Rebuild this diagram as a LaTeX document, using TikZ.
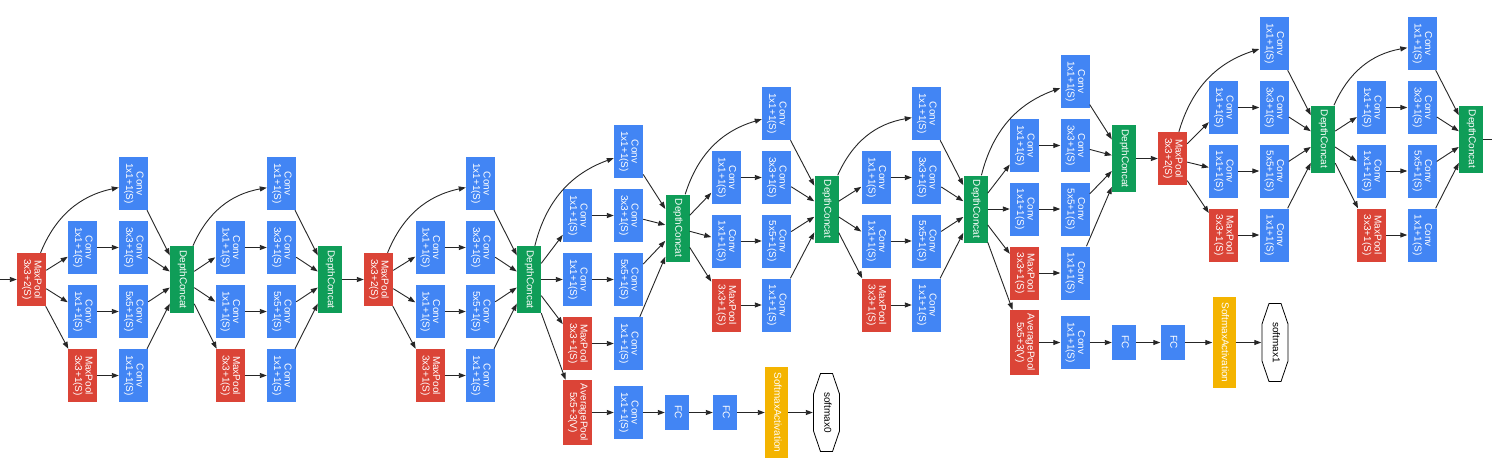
\documentclass[tikz,border=0pt]{standalone}
\usepackage{fontspec}
\setmainfont{Liberation Sans}
\usepackage{graphicx}
\usetikzlibrary{arrows.meta, positioning}

\definecolor{convblue}{HTML}{4285F4}
\definecolor{poolred}{HTML}{DB4437}
\definecolor{catgreen}{HTML}{0F9D58}
\definecolor{actyellow}{HTML}{F4B400}

\newcommand{\vlbl}[1]{\rotatebox{-90}{\begin{tabular}{@{}c@{}}#1\end{tabular}}}

\begin{document}
\begin{tikzpicture}[x=1pt, y=-1pt, on grid,
    >={Triangle[length=7pt,width=5pt]},
    font=\fontsize{10}{10.7}\selectfont,
    every edge/.style={draw, line width=0.9pt, black!85},
    blk/.style={rectangle, inner sep=0pt, text=white},
    conv/.style={blk, fill=convblue, minimum width=29pt, minimum height=53pt},
    pool/.style={blk, fill=poolred, minimum width=29pt, minimum height=53pt},
    avgpool/.style={pool, minimum height=65pt},
    concat/.style={blk, fill=catgreen, minimum width=24pt, minimum height=67pt},
    fc/.style={blk, fill=convblue, minimum width=24pt, minimum height=35pt},
    smact/.style={blk, fill=actyellow, minimum width=23pt, minimum height=91pt},
    smax/.style={rectangle, inner sep=0pt, text=black,
      minimum width=27pt, minimum height=79pt,
      path picture={\draw[line width=0.8pt]
        ([shift={(7.5,0.5)}]path picture bounding box.north west)
        -- ([shift={(-7.5,0.5)}]path picture bounding box.north east)
        -- ([shift={(-0.5,21)}]path picture bounding box.north east)
        -- ([shift={(-0.5,-21)}]path picture bounding box.south east)
        -- ([shift={(-7.5,-0.5)}]path picture bounding box.south east)
        -- ([shift={(7.5,-0.5)}]path picture bounding box.south west)
        -- ([shift={(0.5,-21)}]path picture bounding box.south west)
        -- ([shift={(0.5,21)}]path picture bounding box.north west)
        -- cycle;}}]
  \path[use as bounding box, fill=white] (0,0) rectangle (1492,467);
  \coordinate (src) at (-12,279.5);

  % inception 3a
  \node[pool] (mp_1) at (31.5,279.5) {\vlbl{MaxPool\\3x3+2(S)}};
  \node[conv] (a_1) [above right=96pt and 102pt of mp_1] {\vlbl{Conv\\1x1+1(S)}};
  \node[conv] (a_2) [above right=32pt and 51pt of mp_1] {\vlbl{Conv\\1x1+1(S)}};
  \node[conv] (a_3) [right=51pt of a_2] {\vlbl{Conv\\3x3+1(S)}};
  \node[conv] (a_4) [below right=32pt and 51pt of mp_1] {\vlbl{Conv\\1x1+1(S)}};
  \node[conv] (a_5) [right=51pt of a_4] {\vlbl{Conv\\5x5+1(S)}};
  \node[pool] (a_6) [below right=96pt and 51pt of mp_1] {\vlbl{MaxPool\\3x3+1(S)}};
  \node[conv] (a_7) [right=51pt of a_6] {\vlbl{Conv\\1x1+1(S)}};
  \node[concat] (dc_1) [right=150.5pt of mp_1] {\vlbl{DepthConcat}};
  \path[->]
    (src) edge (mp_1)
    (mp_1) edge[bend left=28] (a_1)
           edge (a_2) edge (a_4) edge (a_6)
    (a_2) edge (a_3) (a_4) edge (a_5) (a_6) edge (a_7)
    (a_1) edge (dc_1) (a_3) edge (dc_1) (a_5) edge (dc_1) (a_7) edge (dc_1);

  % inception 3b
  \node[conv] (b_1) [above right=96pt and 99.5pt of dc_1] {\vlbl{Conv\\1x1+1(S)}};
  \node[conv] (b_2) [above right=32pt and 48pt of dc_1] {\vlbl{Conv\\1x1+1(S)}};
  \node[conv] (b_3) [right=51.5pt of b_2] {\vlbl{Conv\\3x3+1(S)}};
  \node[conv] (b_4) [below right=32pt and 48pt of dc_1] {\vlbl{Conv\\1x1+1(S)}};
  \node[conv] (b_5) [right=51.5pt of b_4] {\vlbl{Conv\\5x5+1(S)}};
  \node[pool] (b_6) [below right=96pt and 48pt of dc_1] {\vlbl{MaxPool\\3x3+1(S)}};
  \node[conv] (b_7) [right=51.5pt of b_6] {\vlbl{Conv\\1x1+1(S)}};
  \node[concat] (dc_2) [right=148pt of dc_1] {\vlbl{DepthConcat}};
  \node[pool] (mp_2) [right=48.5pt of dc_2] {\vlbl{MaxPool\\3x3+2(S)}};
  \path[->]
    (dc_1) edge[bend left=28] (b_1)
           edge (b_2) edge (b_4) edge (b_6)
    (b_2) edge (b_3) (b_4) edge (b_5) (b_6) edge (b_7)
    (b_1) edge (dc_2) (b_3) edge (dc_2) (b_5) edge (dc_2) (b_7) edge (dc_2)
    (dc_2) edge (mp_2);

  % inception 4a
  \node[conv] (c_1) [above right=96pt and 102pt of mp_2] {\vlbl{Conv\\1x1+1(S)}};
  \node[conv] (c_2) [above right=32pt and 51.5pt of mp_2] {\vlbl{Conv\\1x1+1(S)}};
  \node[conv] (c_3) [right=50.5pt of c_2] {\vlbl{Conv\\3x3+1(S)}};
  \node[conv] (c_4) [below right=32pt and 51.5pt of mp_2] {\vlbl{Conv\\1x1+1(S)}};
  \node[conv] (c_5) [right=50.5pt of c_4] {\vlbl{Conv\\5x5+1(S)}};
  \node[pool] (c_6) [below right=96pt and 51.5pt of mp_2] {\vlbl{MaxPool\\3x3+1(S)}};
  \node[conv] (c_7) [right=50.5pt of c_6] {\vlbl{Conv\\1x1+1(S)}};
  \node[concat] (dc_3) [right=150.5pt of mp_2] {\vlbl{DepthConcat}};
  \path[->]
    (mp_2) edge[bend left=28] (c_1)
           edge (c_2) edge (c_4) edge (c_6)
    (c_2) edge (c_3) (c_4) edge (c_5) (c_6) edge (c_7)
    (c_1) edge (dc_3) (c_3) edge (dc_3) (c_5) edge (dc_3) (c_7) edge (dc_3);

  % inception 4b
  \node[conv] (d_1) [above right=128pt and 99.5pt of dc_3] {\vlbl{Conv\\1x1+1(S)}};
  \node[conv] (d_2) [above right=64pt and 48.5pt of dc_3] {\vlbl{Conv\\1x1+1(S)}};
  \node[conv] (d_3) [right=51pt of d_2] {\vlbl{Conv\\3x3+1(S)}};
  \node[conv] (d_4) [right=48.5pt of dc_3] {\vlbl{Conv\\1x1+1(S)}};
  \node[conv] (d_5) [right=51pt of d_4] {\vlbl{Conv\\5x5+1(S)}};
  \node[pool] (d_6) [below right=64pt and 48.5pt of dc_3] {\vlbl{MaxPool\\3x3+1(S)}};
  \node[conv] (d_7) [right=51pt of d_6] {\vlbl{Conv\\1x1+1(S)}};
  \node[avgpool] (d_8) [below right=133pt and 48.5pt of dc_3] {\vlbl{AveragePool\\5x5+3(V)}};
  \node[concat] (dc_4) [above right=51.5pt and 148.5pt of dc_3] {\vlbl{DepthConcat}};
  \path[->]
    (dc_3) edge[bend left=28] (d_1)
           edge (d_2) edge (d_4) edge (d_6) edge (d_8)
    (d_2) edge (d_3) (d_4) edge (d_5) (d_6) edge (d_7)
    (d_1) edge (dc_4) (d_3) edge (dc_4) (d_5) edge (dc_4) (d_7) edge (dc_4);

  % softmax0
  \node[conv] (x_1) [right=51pt of d_8] {\vlbl{Conv\\1x1+1(S)}};
  \node[fc] (x_2) [right=48.5pt of x_1] {\vlbl{FC}};
  \node[fc] (x_3) [right=48pt of x_2] {\vlbl{FC}};
  \node[smact] (x_4) [right=51.5pt of x_3] {\vlbl{SoftmaxActivation}};
  \node[smax] (x_5) [right=50pt of x_4] {\vlbl{softmax0}};
  \path[->]
    (d_8) edge (x_1) (x_1) edge (x_2) (x_2) edge (x_3)
    (x_3) edge (x_4) (x_4) edge (x_5);

  % inception 4c
  \node[conv] (e_1) [above right=114.5pt and 99pt of dc_4] {\vlbl{Conv\\1x1+1(S)}};
  \node[conv] (e_2) [above right=50.5pt and 48.5pt of dc_4] {\vlbl{Conv\\1x1+1(S)}};
  \node[conv] (e_3) [right=50.5pt of e_2] {\vlbl{Conv\\3x3+1(S)}};
  \node[conv] (e_4) [below right=13pt and 48.5pt of dc_4] {\vlbl{Conv\\1x1+1(S)}};
  \node[conv] (e_5) [right=50.5pt of e_4] {\vlbl{Conv\\5x5+1(S)}};
  \node[pool] (e_6) [below right=77pt and 48.5pt of dc_4] {\vlbl{MaxPool\\3x3+1(S)}};
  \node[conv] (e_7) [right=50.5pt of e_6] {\vlbl{Conv\\1x1+1(S)}};
  \node[concat] (dc_5) [above right=19pt and 149pt of dc_4] {\vlbl{DepthConcat}};
  \path[->]
    (dc_4) edge[bend left=28] (e_1)
           edge (e_2) edge (e_4) edge (e_6)
    (e_2) edge (e_3) (e_4) edge (e_5) (e_6) edge (e_7)
    (e_1) edge (dc_5) (e_3) edge (dc_5) (e_5) edge (dc_5) (e_7) edge (dc_5);

  % inception 4d
  \node[conv] (f_1) [above right=95.5pt and 100pt of dc_5] {\vlbl{Conv\\1x1+1(S)}};
  \node[conv] (f_2) [above right=31.5pt and 49.5pt of dc_5] {\vlbl{Conv\\1x1+1(S)}};
  \node[conv] (f_3) [right=50.5pt of f_2] {\vlbl{Conv\\3x3+1(S)}};
  \node[conv] (f_4) [below right=32pt and 49.5pt of dc_5] {\vlbl{Conv\\1x1+1(S)}};
  \node[conv] (f_5) [right=50.5pt of f_4] {\vlbl{Conv\\5x5+1(S)}};
  \node[pool] (f_6) [below right=96pt and 49.5pt of dc_5] {\vlbl{MaxPool\\3x3+1(S)}};
  \node[conv] (f_7) [right=50.5pt of f_6] {\vlbl{Conv\\1x1+1(S)}};
  \node[concat] (dc_6) [right=149pt of dc_5] {\vlbl{DepthConcat}};
  \path[->]
    (dc_5) edge[bend left=28] (f_1)
           edge (f_2) edge (f_4) edge (f_6)
    (f_2) edge (f_3) (f_4) edge (f_5) (f_6) edge (f_7)
    (f_1) edge (dc_6) (f_3) edge (dc_6) (f_5) edge (dc_6) (f_7) edge (dc_6);

  % inception 4e
  \node[conv] (g_1) [above right=127.5pt and 99.5pt of dc_6] {\vlbl{Conv\\1x1+1(S)}};
  \node[conv] (g_2) [above right=63.5pt and 49pt of dc_6] {\vlbl{Conv\\1x1+1(S)}};
  \node[conv] (g_3) [right=50.5pt of g_2] {\vlbl{Conv\\3x3+1(S)}};
  \node[conv] (g_4) [right=49pt of dc_6] {\vlbl{Conv\\1x1+1(S)}};
  \node[conv] (g_5) [right=50.5pt of g_4] {\vlbl{Conv\\5x5+1(S)}};
  \node[pool] (g_6) [below right=64pt and 49pt of dc_6] {\vlbl{MaxPool\\3x3+1(S)}};
  \node[conv] (g_7) [right=50.5pt of g_6] {\vlbl{Conv\\1x1+1(S)}};
  \node[avgpool] (g_8) [below right=133.5pt and 49pt of dc_6] {\vlbl{AveragePool\\5x5+3(V)}};
  \node[concat] (dc_7) [above right=50.5pt and 148.5pt of dc_6] {\vlbl{DepthConcat}};
  \node[pool] (mp_3) [right=48.5pt of dc_7] {\vlbl{MaxPool\\3x3+2(S)}};
  \path[->]
    (dc_6) edge[bend left=28] (g_1)
           edge (g_2) edge (g_4) edge (g_6) edge (g_8)
    (g_2) edge (g_3) (g_4) edge (g_5) (g_6) edge (g_7)
    (g_1) edge (dc_7) (g_3) edge (dc_7) (g_5) edge (dc_7) (g_7) edge (dc_7)
    (dc_7) edge (mp_3);

  % softmax1
  \node[conv] (y_1) [right=50.5pt of g_8] {\vlbl{Conv\\1x1+1(S)}};
  \node[fc] (y_2) [right=49pt of y_1] {\vlbl{FC}};
  \node[fc] (y_3) [right=48.5pt of y_2] {\vlbl{FC}};
  \node[smact] (y_4) [right=51.5pt of y_3] {\vlbl{SoftmaxActivation}};
  \node[smax] (y_5) [right=51pt of y_4] {\vlbl{softmax1}};
  \path[->]
    (g_8) edge (y_1) (y_1) edge (y_2) (y_2) edge (y_3)
    (y_3) edge (y_4) (y_4) edge (y_5);

  % inception 5a
  \node[conv] (h_1) [above right=115pt and 101.5pt of mp_3] {\vlbl{Conv\\1x1+1(S)}};
  \node[conv] (h_2) [above right=51pt and 51pt of mp_3] {\vlbl{Conv\\1x1+1(S)}};
  \node[conv] (h_3) [right=50.5pt of h_2] {\vlbl{Conv\\3x3+1(S)}};
  \node[conv] (h_4) [below right=12.5pt and 51pt of mp_3] {\vlbl{Conv\\1x1+1(S)}};
  \node[conv] (h_5) [right=50.5pt of h_4] {\vlbl{Conv\\5x5+1(S)}};
  \node[pool] (h_6) [below right=76.5pt and 51pt of mp_3] {\vlbl{MaxPool\\3x3+1(S)}};
  \node[conv] (h_7) [right=50.5pt of h_6] {\vlbl{Conv\\1x1+1(S)}};
  \node[concat] (dc_8) [above right=19.5pt and 150.5pt of mp_3] {\vlbl{DepthConcat}};
  \path[->]
    (mp_3) edge[bend left=28] (h_1)
           edge (h_2) edge (h_4) edge (h_6)
    (h_2) edge (h_3) (h_4) edge (h_5) (h_6) edge (h_7)
    (h_1) edge (dc_8) (h_3) edge (dc_8) (h_5) edge (dc_8) (h_7) edge (dc_8);

  % inception 5b
  \node[conv] (i_1) [above right=95.5pt and 99pt of dc_8] {\vlbl{Conv\\1x1+1(S)}};
  \node[conv] (i_2) [above right=31.5pt and 48.5pt of dc_8] {\vlbl{Conv\\1x1+1(S)}};
  \node[conv] (i_3) [right=50.5pt of i_2] {\vlbl{Conv\\3x3+1(S)}};
  \node[conv] (i_4) [below right=32pt and 48.5pt of dc_8] {\vlbl{Conv\\1x1+1(S)}};
  \node[conv] (i_5) [right=50.5pt of i_4] {\vlbl{Conv\\5x5+1(S)}};
  \node[pool] (i_6) [below right=96pt and 48.5pt of dc_8] {\vlbl{MaxPool\\3x3+1(S)}};
  \node[conv] (i_7) [right=50.5pt of i_6] {\vlbl{Conv\\1x1+1(S)}};
  \node[concat] (dc_9) [right=148pt of dc_8] {\vlbl{DepthConcat}};
  \coordinate[right=32pt of dc_9] (snk);
  \path[->]
    (dc_8) edge[bend left=28] (i_1)
           edge (i_2) edge (i_4) edge (i_6)
    (i_2) edge (i_3) (i_4) edge (i_5) (i_6) edge (i_7)
    (i_1) edge (dc_9) (i_3) edge (dc_9) (i_5) edge (dc_9) (i_7) edge (dc_9)
    (dc_9) edge (snk);
\end{tikzpicture}
\end{document}
